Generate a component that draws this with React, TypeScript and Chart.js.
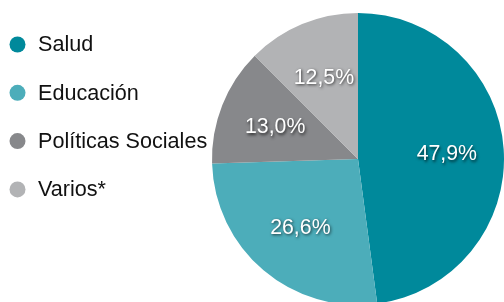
import React, { useEffect, useRef } from "react";
import { Chart, registerables } from "chart.js";

Chart.register(...registerables);

const categories = ["Salud", "Educación", "Políticas Sociales", "Varios*"];
const values = [47.9, 26.6, 13.0, 12.5];
const valueLabels = ["47,9%", "26,6%", "13,0%", "12,5%"];
const colors = ["#00899b", "#4cadba", "#87888b", "#b2b3b5"];

const FONT = "'Liberation Sans', Arial, Helvetica, sans-serif";

const labelPlugin = {
  id: "sliceLabels",
  afterDatasetsDraw(chart: any) {
    const ctx = chart.ctx;
    const meta = chart.getDatasetMeta(0);
    ctx.save();
    ctx.font = `21.3px ${FONT}`;
    ctx.textAlign = "center";
    ctx.textBaseline = "middle";
    ctx.fillStyle = "#ffffff";
    ctx.shadowColor = "rgba(0,0,0,0.7)";
    ctx.shadowBlur = 3;
    ctx.shadowOffsetX = 1;
    ctx.shadowOffsetY = 1.5;
    meta.data.forEach((arc: any, i: number) => {
      const p = arc.getProps(["x", "y", "startAngle", "endAngle", "outerRadius"], true);
      const mid = (p.startAngle + p.endAngle) / 2;
      const r = p.outerRadius * 0.61;
      ctx.fillText(valueLabels[i], p.x + Math.cos(mid) * r, p.y + Math.sin(mid) * r + 1);
    });
    ctx.restore();
  },
};

const legendPlugin = {
  id: "sideLegend",
  afterDraw(chart: any) {
    const ctx = chart.ctx;
    const labels = chart.data.labels as string[];
    const bg = chart.data.datasets[0].backgroundColor as string[];
    ctx.save();
    ctx.font = `21.6px ${FONT}`;
    ctx.textAlign = "left";
    ctx.textBaseline = "middle";
    labels.forEach((lab, i) => {
      const y = 44.5 + i * 48.3;
      ctx.beginPath();
      ctx.fillStyle = bg[i];
      ctx.arc(17.5, y, 8, 0, Math.PI * 2);
      ctx.fill();
      ctx.fillStyle = "#111111";
      ctx.fillText(lab, 38, y + 1);
    });
    ctx.restore();
  },
};

export default function App() {
  const ref = useRef<HTMLCanvasElement | null>(null);
  useEffect(() => {
    if (!ref.current) return;
    const chart = new Chart(ref.current, {
      type: "pie",
      data: {
        labels: categories,
        datasets: [
          {
            data: values,
            backgroundColor: colors,
            borderWidth: 0,
          },
        ],
      },
      options: {
        responsive: false,
        animation: false,
        devicePixelRatio: 1,
        layout: { padding: { left: 212, top: 13, right: 0, bottom: 5 } },
        plugins: {
          legend: { display: false },
          tooltip: { enabled: false },
        },
      },
      plugins: [labelPlugin, legendPlugin],
    });
    return () => chart.destroy();
  }, []);
  return (
    <div
      style={{
        position: "fixed",
        left: 0,
        top: 0,
        width: 504,
        height: 302,
        overflow: "hidden",
        background: "#ffffff",
      }}
    >
      <canvas ref={ref} width={504} height={310} style={{ display: "block", width: 504, height: 310 }} />
    </div>
  );
}
